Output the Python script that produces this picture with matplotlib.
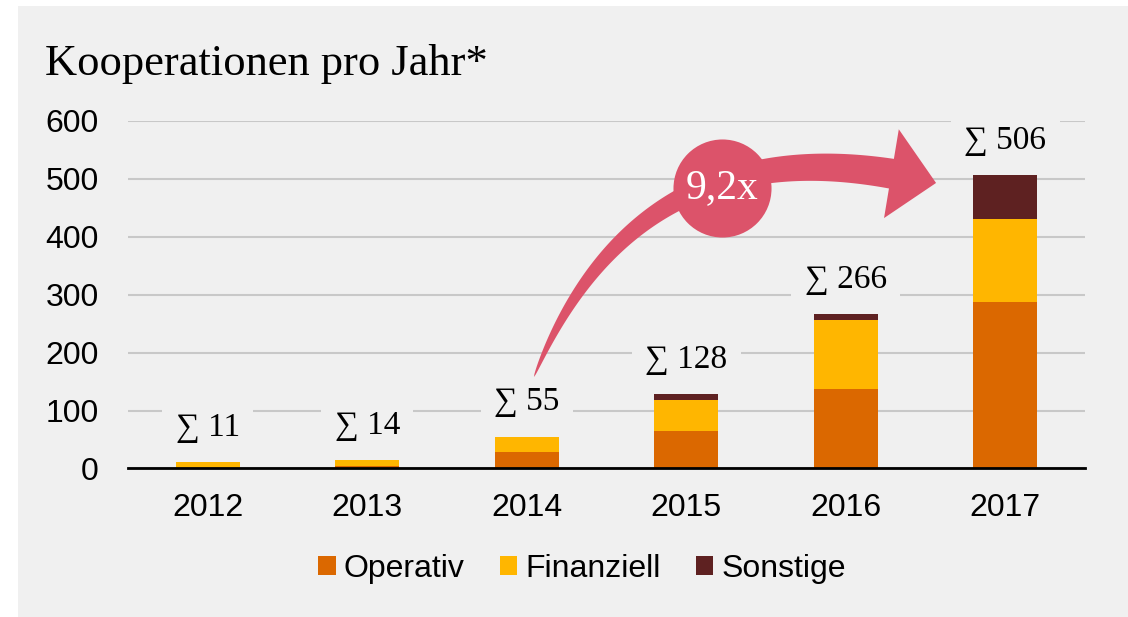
import matplotlib
matplotlib.use('Agg')
import matplotlib.pyplot as plt
import numpy as np
from matplotlib.patches import Rectangle, Polygon

# Daten
years = ['2012', '2013', '2014', '2015', '2016', '2017']
operativ = [0, 4, 28, 64, 137, 287]
finanziell = [11, 10, 27, 54, 120, 144]
sonstige = [0, 0, 0, 10, 9, 75]
totals = [11, 14, 55, 128, 266, 506]
series_names = ['Operativ', 'Finanziell', 'Sonstige']
growth_text = '9,2x'

bg = '#f0f0f0'
c_op = '#db6800'
c_fin = '#ffb600'
c_son = '#5e2121'
c_arrow = '#dc536a'
serif = ['Liberation Serif', 'DejaVu Serif']

plt.rcParams['font.family'] = ['Liberation Sans', 'DejaVu Sans']

fig = plt.figure(figsize=(11.28, 6.17), dpi=100, facecolor='white')
# grauer Hintergrund
fig.patches.append(Rectangle((18 / 1128, 0), 1, 1 - 6 / 617, transform=fig.transFigure,
                             fc=bg, ec='none', zorder=-10))

ax = fig.add_axes([0.1135, 0.2407, 0.8484, 0.5632])
ax.set_facecolor('none')

x = np.arange(len(years))
w = 0.4
b1 = ax.bar(x, operativ, w, color=c_op, label=series_names[0], zorder=2)
b2 = ax.bar(x, finanziell, w, bottom=operativ, color=c_fin, label=series_names[1], zorder=2)
bottom2 = [o + f for o, f in zip(operativ, finanziell)]
b3 = ax.bar(x, sonstige, w, bottom=bottom2, color=c_son, label=series_names[2], zorder=2)

ax.set_xlim(-0.5, 5.5)
ax.set_ylim(0, 600)
ax.set_yticks(range(0, 601, 100))
ax.set_xticks(x)
ax.set_xticklabels(years)
ax.yaxis.grid(True, color='#c8c8c8', lw=1.5)
ax.set_axisbelow(True)
for s in ['top', 'right', 'left']:
    ax.spines[s].set_visible(False)
ax.spines['bottom'].set_color('black')
ax.spines['bottom'].set_linewidth(2)
ax.spines['bottom'].set_zorder(3)
ax.tick_params(axis='y', length=0, labelsize=23, pad=21)
ax.tick_params(axis='x', length=0, labelsize=23, pad=18)

# Summen
for i, t in enumerate(totals):
    ax.annotate(f'\u2211 {t}', (x[i], t), xytext=(0, 25), textcoords='offset points',
                ha='center', va='center', fontsize=24, family=serif,
                bbox=dict(boxstyle='square,pad=0.4', fc=bg, ec='none'), zorder=3)

# Pfeil (gebogen, spitz zulaufend) - in Pixeln berechnet
p0 = ax.transData.transform((2.045, 158))
p1 = ax.transData.transform((2.72, 619))
p2 = ax.transData.transform((4.566, 493))
head_len, head_half, tail_w = 45, 45, 30
ts = np.linspace(0, 1, 400)
pts = np.array([(1 - t) ** 2 * p0 + 2 * (1 - t) * t * p1 + t ** 2 * p2 for t in ts])
tb = ts[np.where(np.hypot(*(pts - p2).T) >= head_len)[0][-1]]
ts = np.linspace(0, tb, 200)
pts = np.array([(1 - t) ** 2 * p0 + 2 * (1 - t) * t * p1 + t ** 2 * p2 for t in ts])
der = np.array([2 * (1 - t) * (p1 - p0) + 2 * t * (p2 - p1) for t in ts])
der = der / np.hypot(*der.T)[:, None]
nrm = np.column_stack([-der[:, 1], der[:, 0]])
wid = tail_w / 2 * (ts / tb) ** 0.6
left = pts + nrm * wid[:, None]
right = pts - nrm * wid[:, None]
base, n_end = pts[-1], nrm[-1]
outline = np.vstack([left, [base + n_end * head_half], [p2], [base - n_end * head_half], right[::-1]])
outline = ax.transData.inverted().transform(outline)
ax.add_patch(Polygon(outline, closed=True, fc=c_arrow, ec='none', zorder=4, clip_on=False))

ax.plot(3.224, 484.3, 'o', ms=70.6, color=c_arrow, mec='none', zorder=5, clip_on=False)
ax.text(3.224, 484.3, growth_text, color='white', fontsize=30, family=serif,
        ha='center', va='center', zorder=6)

fig.text(45 / 1128, 1 - 75 / 617, 'Kooperationen pro Jahr*', family=serif, fontsize=32,
         va='baseline', ha='left')

fig.legend(handles=[b1, b2, b3], loc='center', bbox_to_anchor=(582 / 1128, 1 - 569 / 617),
           ncol=3, frameon=False, fontsize=23, handlelength=0.55, handleheight=0.55,
           handletextpad=0.25, columnspacing=1.1)

fig.savefig('out.png', dpi=100, facecolor=fig.get_facecolor())
